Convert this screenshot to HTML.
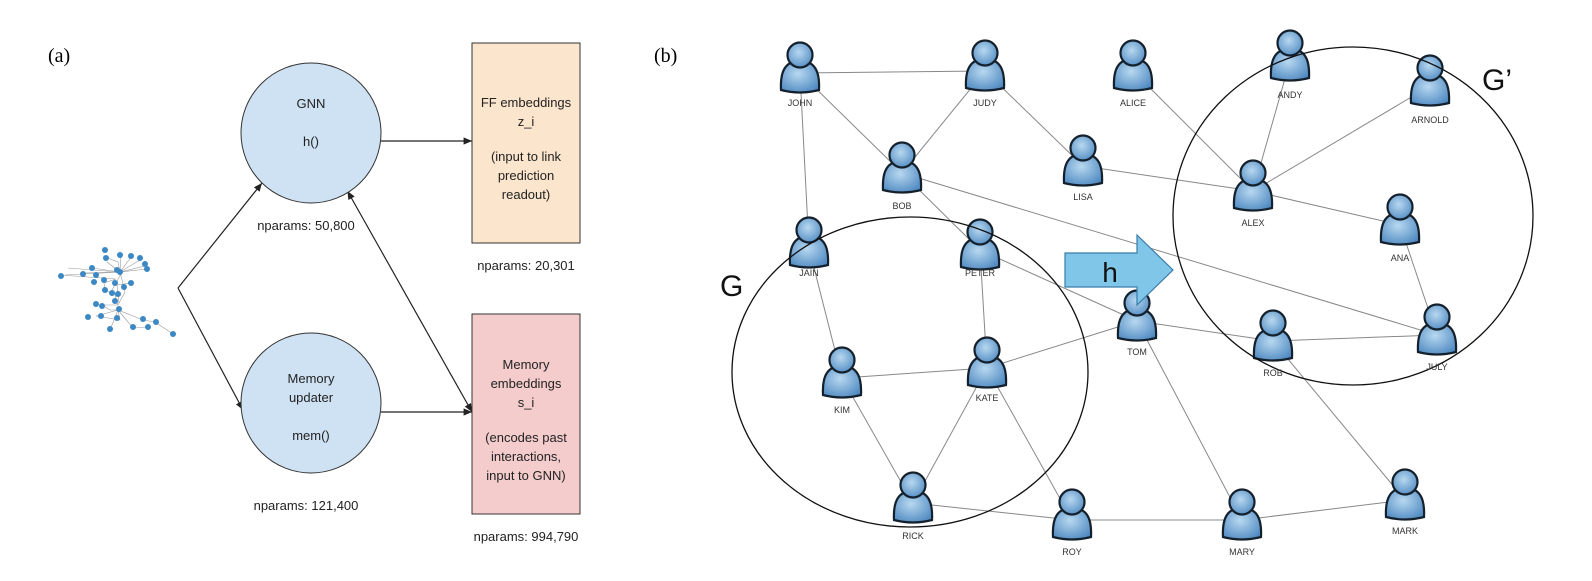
<!DOCTYPE html>
<html><head><style>
body{margin:0;background:#fff;}
svg text{font-family:"Liberation Sans",sans-serif;}
</style></head><body>
<svg width="1592" height="576" viewBox="0 0 1592 576" xmlns="http://www.w3.org/2000/svg">
<defs>
<marker id="ar" markerWidth="8" markerHeight="8" refX="7" refY="4" orient="auto"><path d="M0,1 L7,4 L0,7 z" fill="#222"/></marker>
<marker id="ar2" markerWidth="8" markerHeight="8" refX="1" refY="4" orient="auto"><path d="M7,1 L0,4 L7,7 z" fill="#222"/></marker>
<radialGradient id="pg" cx="0.45" cy="0.4" r="0.7"><stop offset="0" stop-color="#b8d8f0"/><stop offset="1" stop-color="#4a86bf"/></radialGradient>
<g id="p"><path d="M-19,35 C-20,15 -14,6 0,6 C14,6 20,15 19,35 Q0,40 -19,35 Z" fill="url(#pg)" stroke="#14202c" stroke-width="2.2"/><circle cx="0" cy="0" r="12.5" fill="url(#pg)" stroke="#14202c" stroke-width="2.2"/></g>
</defs>
<text x="48" y="62" font-size="20" style="font-family:'Liberation Serif',serif">(a)</text>
<text x="654" y="62" font-size="20" style="font-family:'Liberation Serif',serif">(b)</text>

<!-- left small graph -->
<g stroke="#999" stroke-width="0.6" fill="none">
<path d="M105,257 L118,262 L120,272 L65,275 M92,268 L120,272 L83,273 M107,262 L120,272 L121,255 L120,272 L131,257 L120,272 L140,260 L120,272 L145,266 L120,272 L147,269 M68,268 L119,272 M60,275 L116,279 L104,283 L105,290 L115,295 L118,305 L102,305 L110,310 L118,310 L120,320 L96,316 L118,310 M118,310 L143,320 L155,322 L173,334 M118,310 L133,328 L148,327 M118,310 L110,330 M117,285 L131,283 M118,305 L125,292 L120,272 M112,290 L122,272 M119,303 L117,285"/>
</g>
<g fill="#3b88c4">
<circle cx="105" cy="250" r="3"/><circle cx="106" cy="258" r="3"/><circle cx="120" cy="255" r="3"/><circle cx="131" cy="256" r="3"/><circle cx="140" cy="258" r="3"/><circle cx="145" cy="264" r="3"/><circle cx="147" cy="269" r="3"/><circle cx="92" cy="268" r="3"/><circle cx="83" cy="274" r="3"/><circle cx="61" cy="276" r="3"/><circle cx="96" cy="275" r="3"/><circle cx="120" cy="272" r="3"/><circle cx="117" cy="270" r="3"/><circle cx="94" cy="282" r="3"/><circle cx="104" cy="280" r="3"/><circle cx="115" cy="283" r="3"/><circle cx="131" cy="283" r="3"/><circle cx="124" cy="287" r="3"/><circle cx="105" cy="290" r="3"/><circle cx="112" cy="293" r="3"/><circle cx="118" cy="294" r="3"/><circle cx="96" cy="304" r="3"/><circle cx="102" cy="306" r="3"/><circle cx="115" cy="301" r="3"/><circle cx="119" cy="309" r="3"/><circle cx="88" cy="317" r="3"/><circle cx="101" cy="316" r="3"/><circle cx="117" cy="318" r="3"/><circle cx="110" cy="329" r="3"/><circle cx="133" cy="327" r="3"/><circle cx="143" cy="319" r="3"/><circle cx="148" cy="327" r="3"/><circle cx="156" cy="322" r="3"/><circle cx="173" cy="334" r="3"/>
</g>

<!-- left diagram -->
<g stroke="#222" stroke-width="1.2" fill="none">
<path d="M178,288 L262,183" marker-end="url(#ar)"/>
<path d="M178,288 L243,410" marker-end="url(#ar)"/>
<path d="M381,141 L472,141" marker-end="url(#ar)"/>
<path d="M381,412 L472,412" marker-end="url(#ar)"/>
<path d="M348,192 L472,412" marker-start="url(#ar2)" marker-end="url(#ar)"/>
</g>
<circle cx="311" cy="133" r="70" fill="#cfe2f3" stroke="#333" stroke-width="1"/>
<circle cx="311" cy="403" r="70" fill="#cfe2f3" stroke="#333" stroke-width="1"/>
<rect x="472" y="43" width="108" height="200" fill="#fce5cd" stroke="#333" stroke-width="1"/>
<rect x="472" y="314" width="108" height="200" fill="#f4cccc" stroke="#333" stroke-width="1"/>
<g font-size="13" text-anchor="middle" fill="#222">
<text x="311" y="108">GNN</text><text x="311" y="146">h()</text>
<text x="311" y="383">Memory</text><text x="311" y="402">updater</text><text x="311" y="440">mem()</text>
<text x="526" y="107">FF embeddings</text><text x="526" y="126">z_i</text>
<text x="526" y="161">(input to link</text><text x="526" y="180">prediction</text><text x="526" y="199">readout)</text>
<text x="526" y="369">Memory</text><text x="526" y="388">embeddings</text><text x="526" y="407">s_i</text>
<text x="526" y="442">(encodes past</text><text x="526" y="461">interactions,</text><text x="526" y="480">input to GNN)</text>
<text x="306" y="230">nparams: 50,800</text>
<text x="526" y="270">nparams: 20,301</text>
<text x="306" y="510">nparams: 121,400</text>
<text x="526" y="541">nparams: 994,790</text>
</g>

<!-- right graph edges -->
<g stroke="#888" stroke-width="1">
<path d="M800,73 L985,71 M800,73 L902,173 M800,73 L809,248 M985,71 L902,173 M985,71 L1083,166 M1083,166 L1253,191 M1133,71 L1253,191 M1290,61 L1253,191 M1430,86 L1253,191 M1253,191 L1400,225 M1400,225 L1437,335 M902,173 L980,250 M980,250 L1137,321 M902,173 L1437,335 M809,248 L842,378 M980,250 L987,368 M842,378 L987,368 M842,378 L913,503 M987,368 L913,503 M987,368 L1072,520 M987,368 L1137,321 M1137,321 L1273,341 M1273,341 L1437,335 M1137,321 L1242,520 M913,503 L1072,520 M1072,520 L1242,520 M1242,520 L1405,500 M1273,341 L1405,500"/>
</g>
<g>
<use href="#p" x="800" y="55"/><use href="#p" x="985" y="53"/><use href="#p" x="1133" y="53"/><use href="#p" x="1290" y="43"/><use href="#p" x="1430" y="68"/>
<use href="#p" x="902" y="155"/><use href="#p" x="1083" y="148"/><use href="#p" x="1253" y="173"/><use href="#p" x="1400" y="207"/>
<use href="#p" x="809" y="230"/><use href="#p" x="980" y="232"/><use href="#p" x="1137" y="303"/><use href="#p" x="1273" y="323"/><use href="#p" x="1437" y="317"/>
<use href="#p" x="842" y="360"/><use href="#p" x="987" y="350"/><use href="#p" x="913" y="485"/><use href="#p" x="1072" y="502"/><use href="#p" x="1242" y="502"/><use href="#p" x="1405" y="482"/>
</g>
<g fill="none" stroke="#111" stroke-width="1.3">
<ellipse cx="910" cy="372" rx="178" ry="155"/>
<ellipse cx="1353" cy="216" rx="180" ry="169"/>
</g>
<g font-size="9" text-anchor="middle" fill="#333">
<text x="800" y="106">JOHN</text><text x="985" y="106">JUDY</text><text x="1133" y="106">ALICE</text><text x="1290" y="98">ANDY</text><text x="1430" y="123">ARNOLD</text>
<text x="902" y="209">BOB</text><text x="1083" y="200">LISA</text><text x="1253" y="226">ALEX</text><text x="1400" y="261">ANA</text>
<text x="809" y="276">JAIN</text><text x="980" y="276">PETER</text><text x="1137" y="355">TOM</text><text x="1273" y="376">ROB</text><text x="1437" y="370">JULY</text>
<text x="842" y="413">KIM</text><text x="987" y="401">KATE</text><text x="913" y="539">RICK</text><text x="1072" y="555">ROY</text><text x="1242" y="555">MARY</text><text x="1405" y="534">MARK</text>
</g>
<path d="M1065,253 L1137,253 L1137,235 L1173,270 L1137,305 L1137,287 L1065,287 Z" fill="#7fc6e8" stroke="#3a7ca8" stroke-width="1.2"/>
<text x="1110" y="282" font-size="28" text-anchor="middle" fill="#111">h</text>
<text x="720" y="296" font-size="30" fill="#111">G</text>
<text x="1482" y="90" font-size="30" fill="#111">G’</text>
</svg>
</body></html>
